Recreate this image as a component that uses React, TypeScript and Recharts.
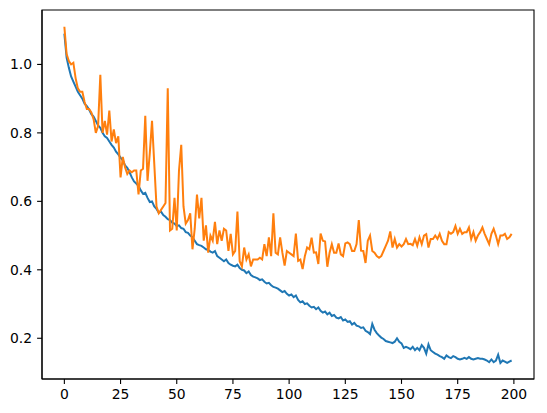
import { LineChart, Line, XAxis, YAxis, ReferenceArea } from 'recharts';

// per-epoch loss values
const trainLoss = [
  1.09, 1.02, 0.99, 0.965, 0.95, 0.935, 0.92, 0.91, 0.9, 0.885,
  0.878, 0.868, 0.855, 0.848, 0.835, 0.822, 0.815, 0.8, 0.79, 0.785,
  0.775, 0.765, 0.757, 0.745, 0.737, 0.728, 0.72, 0.705, 0.698, 0.685,
  0.67, 0.658, 0.652, 0.645, 0.632, 0.622, 0.625, 0.61, 0.598, 0.6,
  0.585, 0.578, 0.567, 0.57, 0.56, 0.555, 0.548, 0.545, 0.538, 0.535,
  0.528, 0.53, 0.522, 0.52, 0.51, 0.508, 0.5, 0.495, 0.485, 0.475,
  0.472, 0.47, 0.465, 0.46, 0.458, 0.453, 0.45, 0.455, 0.44, 0.435,
  0.43, 0.425, 0.43, 0.42, 0.415, 0.412, 0.41, 0.415, 0.405, 0.4,
  0.398, 0.39, 0.395, 0.385, 0.38, 0.378, 0.375, 0.37, 0.372, 0.365,
  0.36, 0.362, 0.355, 0.35, 0.348, 0.345, 0.34, 0.335, 0.338, 0.33,
  0.325, 0.328, 0.32, 0.325, 0.312, 0.305, 0.308, 0.3, 0.302, 0.295,
  0.29, 0.292, 0.285, 0.29, 0.28, 0.275, 0.278, 0.27, 0.275, 0.265,
  0.268, 0.26, 0.258, 0.262, 0.252, 0.255, 0.248, 0.25, 0.24, 0.245,
  0.237, 0.235, 0.23, 0.232, 0.222, 0.218, 0.212, 0.242, 0.225, 0.215,
  0.208, 0.202, 0.198, 0.192, 0.19, 0.188, 0.186, 0.19, 0.2, 0.19,
  0.185, 0.172, 0.175, 0.172, 0.168, 0.175, 0.165, 0.172, 0.165, 0.18,
  0.172, 0.155, 0.182, 0.165, 0.16, 0.155, 0.152, 0.148, 0.145, 0.14,
  0.15, 0.145, 0.142, 0.148, 0.145, 0.14, 0.138, 0.14, 0.143, 0.14,
  0.145, 0.14, 0.138, 0.14, 0.142, 0.14, 0.14, 0.138, 0.135, 0.13,
  0.138, 0.13, 0.135, 0.152, 0.128, 0.135, 0.132, 0.128, 0.132, 0.135,
];

const valLoss = [
  1.11, 1.03, 1.01, 1.0, 1.005, 0.96, 0.93, 0.92, 0.92, 0.89,
  0.87, 0.87, 0.86, 0.84, 0.8, 0.82, 0.97, 0.8, 0.835, 0.795,
  0.865, 0.775, 0.81, 0.77, 0.79, 0.67, 0.73, 0.7, 0.68, 0.69,
  0.685, 0.69, 0.69, 0.62, 0.69, 0.695, 0.85, 0.66, 0.74, 0.835,
  0.71, 0.585, 0.565, 0.575, 0.585, 0.595, 0.93, 0.515, 0.52, 0.61,
  0.515, 0.69, 0.765, 0.585, 0.535, 0.545, 0.565, 0.46, 0.52, 0.62,
  0.55, 0.61, 0.485, 0.53, 0.45, 0.5, 0.485, 0.54, 0.475, 0.515,
  0.485, 0.52, 0.515, 0.455, 0.505, 0.445, 0.455, 0.57, 0.425, 0.41,
  0.465, 0.43, 0.445, 0.41, 0.43, 0.43, 0.43, 0.435, 0.43, 0.475,
  0.44, 0.495, 0.44, 0.565, 0.45, 0.445, 0.495, 0.45, 0.412, 0.455,
  0.45, 0.445, 0.44, 0.506, 0.426, 0.43, 0.402, 0.44, 0.465, 0.46,
  0.494, 0.45, 0.451, 0.417, 0.506, 0.485, 0.483, 0.409, 0.45, 0.475,
  0.45, 0.45, 0.477, 0.445, 0.44, 0.477, 0.48, 0.475, 0.455, 0.455,
  0.475, 0.545, 0.456, 0.455, 0.42, 0.485, 0.5, 0.455, 0.45, 0.44,
  0.435, 0.44, 0.455, 0.47, 0.485, 0.512, 0.465, 0.49, 0.465, 0.475,
  0.468, 0.475, 0.49, 0.475, 0.476, 0.472, 0.49, 0.47, 0.495, 0.475,
  0.5, 0.504, 0.465, 0.49, 0.49, 0.5, 0.49, 0.505, 0.485, 0.475,
  0.475, 0.51, 0.505, 0.51, 0.528, 0.505, 0.52, 0.505, 0.51, 0.51,
  0.524, 0.49, 0.51, 0.485, 0.5, 0.51, 0.524, 0.505, 0.49, 0.475,
  0.505, 0.52, 0.5, 0.475, 0.5, 0.5, 0.505, 0.49, 0.495, 0.505,
];

const xTicks = [0, 25, 50, 75, 100, 125, 150, 175, 200];
const yTicks = [0.2, 0.4, 0.6, 0.8, 1.0];

const data = trainLoss.map((v, i) => ({ epoch: i, train: v, val: valLoss[i] }));

const X_DOMAIN: [number, number] = [-9.95, 208.95];
const Y_DOMAIN: [number, number] = [0.081, 1.159];

const tickStyle = { fill: '#000', fontSize: 13.9, fontFamily: 'DejaVu Sans' };

const App = () => {
  return (
    <div style={{ position: 'absolute', left: 0, top: 0, background: '#fff' }}>
      <LineChart width={547} height={413} data={data} margin={{ top: 10, right: 13, left: 0, bottom: 0 }}>
        <XAxis
          dataKey="epoch"
          type="number"
          domain={X_DOMAIN}
          allowDataOverflow
          ticks={xTicks}
          height={34}
          tick={tickStyle}
          tickSize={4.9}
          tickMargin={5}
          stroke="#000"
          strokeWidth={1.1}
          interval={0}
        />
        <YAxis
          type="number"
          domain={Y_DOMAIN}
          allowDataOverflow
          ticks={yTicks}
          width={42}
          tick={tickStyle}
          tickSize={4.9}
          tickMargin={5}
          stroke="#000"
          strokeWidth={1.1}
          interval={0}
          tickFormatter={(v: number) => v.toFixed(1)}
        />
        <Line type="linear" dataKey="train" stroke="#1f77b4" strokeWidth={2} dot={false} isAnimationActive={false} />
        <Line type="linear" dataKey="val" stroke="#ff7f0e" strokeWidth={2} dot={false} isAnimationActive={false} />
        <ReferenceArea
          x1={X_DOMAIN[0]}
          x2={X_DOMAIN[1]}
          y1={Y_DOMAIN[0]}
          y2={Y_DOMAIN[1]}
          fill="none"
          stroke="#000"
          strokeWidth={1.1}
          ifOverflow="visible"
        />
      </LineChart>
    </div>
  );
};

export default App;
